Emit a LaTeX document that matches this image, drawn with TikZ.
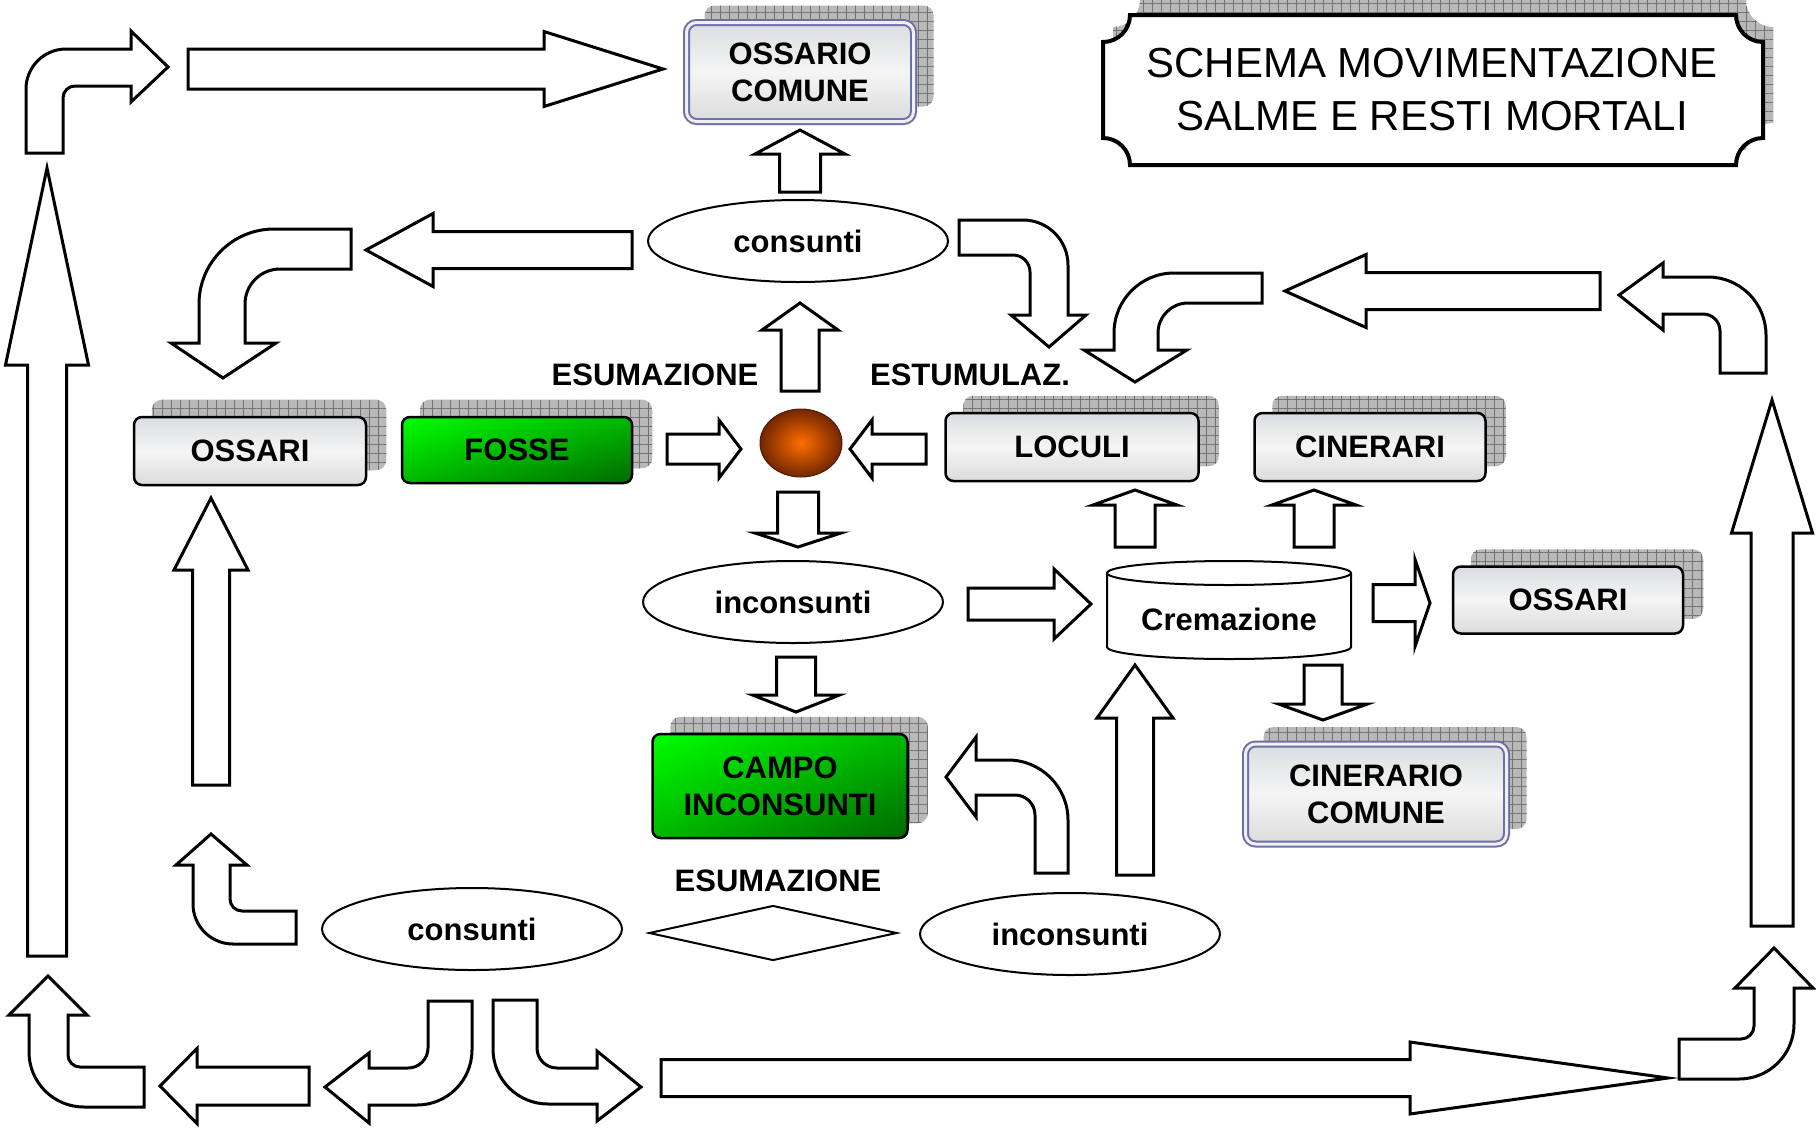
\documentclass[tikz,border=0pt]{standalone}
\usepackage{fontspec}
\setmainfont{Liberation Sans}
\newfontfamily\titlefont{Liberation Sans}
\usetikzlibrary{positioning, calc, shapes.geometric, shapes, shadings, patterns.meta, backgrounds}

\definecolor{frameblue}{RGB}{110,110,168}
\definecolor{ballcore}{RGB}{255,110,0}
\definecolor{ballrim}{RGB}{115,38,0}
\definecolor{limegreen}{RGB}{0,255,0}
\definecolor{deepgreen}{RGB}{0,105,0}
\definecolor{marble}{RGB}{218,221,225}

\tikzstyle{Fat} = [draw, fill=white, line width=3pt]
\tikzstyle{Box} = [draw, rounded corners=8pt, line width=2.5pt, inner sep=0pt, align=center]
\tikzstyle{Marble} = [top color=marble, bottom color=gray!28, middle color=white!92!gray]
\tikzstyle{Green} = [upper left=limegreen, upper right=green!72!black, lower left=green!72!black, lower right=deepgreen]
\tikzstyle{Frame} = [draw=frameblue, double=white!88!gray, double distance=3pt, line width=2pt,
        rounded corners=10pt, inner sep=0pt, align=center]
\tikzstyle{Oval} = [ellipse, draw, fill=white, line width=2pt, minimum width=300pt, minimum height=82pt, inner sep=0pt]
\tikzstyle{Ball} = [ellipse, draw=ballrim!70!black, line width=1pt, inner color=ballcore, outer color=ballrim,
        minimum width=82pt, minimum height=68pt]
\tikzstyle{Grid} = [fill=gray!55,
        postaction={pattern={Lines[distance=9pt, line width=0.8pt]}, pattern color=black!55},
        postaction={pattern={Lines[angle=90, distance=9pt, line width=0.8pt]}, pattern color=black!55}]

\newcommand{\FatArrow}[6]{\draw[Fat, shift={(#1)}, rotate=#2] (0,-#4) -- ({#3-#6},-#4) -- ({#3-#6},-#5)
        -- (#3,0) -- ({#3-#6},#5) -- ({#3-#6},#4) -- (0,#4) -- cycle;}

\begin{document}
\begin{tikzpicture}[x=1pt, y=-1pt, every node/.style={font=\fontsize{31}{37}\selectfont\bfseries}]
    \useasboundingbox (0,0) rectangle (1816,1128);

    \path[Grid, shift={(10,-15)}] (1103,42) arc[start angle=90, end angle=0, radius=27] -- (1736,15)
        arc[start angle=180, end angle=90, radius=27] -- (1763,138)
        arc[start angle=270, end angle=180, radius=27] -- (1130,165)
        arc[start angle=0, end angle=-90, radius=27] -- cycle;
    \draw[line width=4pt, fill=white] (1103,42) arc[start angle=90, end angle=0, radius=27] -- (1736,15)
        arc[start angle=180, end angle=90, radius=27] -- (1763,138)
        arc[start angle=270, end angle=180, radius=27] -- (1130,165)
        arc[start angle=0, end angle=-90, radius=27] -- cycle;
    \node (title) at (1432,90) [align=center, font=\titlefont\fontsize{42}{53}\selectfont]
        {SCHEMA MOVIMENTAZIONE\\SALME E RESTI MORTALI};

    \node (ocomune) at (800,72) [Marble, Frame, minimum width=227pt, minimum height=99pt] {OSSARIO\\COMUNE};
    \node (consTop) at (798,241) [Oval] {consunti};
    \node (esum) at (655,375) {ESUMAZIONE};
    \node (estum) at (970,375) {ESTUMULAZ.};
    \node (ball) at (801,443) [Ball] {};
    \node (ossariL) at (250,451) [Marble, Box, minimum width=232pt, minimum height=68pt] {OSSARI};
    \node (fosse) at (517,450) [Green, Box, minimum width=230pt, minimum height=66pt] {FOSSE};
    \node (loculi) at (1072,447) [Marble, Box, minimum width=253pt, minimum height=68pt] {LOCULI};
    \node (cinerari) at (1370,447) [Marble, Box, minimum width=231pt, minimum height=68pt] {CINERARI};
    \node (inconsMid) at (793,602) [Oval] {inconsunti};
    \draw[line width=2pt, fill=white] (1107,573) -- (1107,647)
        arc[start angle=180, end angle=0, x radius=122, y radius=12] -- (1351,573)
        arc[start angle=0, end angle=-180, x radius=122, y radius=12] -- cycle;
    \draw[line width=2pt] (1107,573) arc[start angle=180, end angle=0, x radius=122, y radius=12];
    \node (crem) at (1229,619) {Cremazione};
    \node (ossariR) at (1568,600) [Marble, Box, minimum width=230pt, minimum height=67pt] {OSSARI};
    \node (campo) at (780,786) [Green, Box, minimum width=255pt, minimum height=104pt] {CAMPO\\INCONSUNTI};
    \node (cincomune) at (1376,794) [Marble, Frame, minimum width=261pt, minimum height=100pt] {CINERARIO\\COMUNE};
    \node (esum2) at (778,881) {ESUMAZIONE};
    \node (rombo) at (773,933) [diamond, draw, line width=2pt, aspect=4.5, minimum width=248pt, minimum height=55pt, inner sep=0pt] {};
    \node (consBot) at (472,929) [Oval] {consunti};
    \node (inconsBot) at (1070,934) [Oval] {inconsunti};

    \begin{scope}[on background layer]
        \foreach \n in {ocomune, ossariL, fosse, loculi, cinerari, ossariR, campo, cincomune}
            \path[Grid, rounded corners=10pt] ([shift={(19,-16)}]\n.south west) rectangle ([shift={(19,-16)}]\n.north east);
    \end{scope}

    \FatArrow{188,69}{0}{475}{20}{37.5}{119}
    \FatArrow{47,956}{90}{788}{19.5}{41.5}{197}
    \FatArrow{632,250}{180}{266}{18.5}{36.5}{67}
    \FatArrow{800,192}{90}{62}{20.5}{45}{24}
    \FatArrow{800,391}{90}{88}{19}{38}{27}
    \FatArrow{667,449}{0}{74}{15}{29}{22}
    \FatArrow{926,449}{180}{76}{15}{29}{22}
    \FatArrow{798,492}{270}{55}{20.5}{43}{14}
    \FatArrow{796,657}{270}{55}{19.5}{43.5}{17}
    \FatArrow{968,604}{0}{123}{16}{35}{37}
    \FatArrow{1135,547}{90}{57}{20}{42}{15}
    \FatArrow{1314,547}{90}{57}{20}{42}{15}
    \FatArrow{1373,603}{0}{57}{18.5}{43.5}{15}
    \FatArrow{1323,665}{270}{55}{19}{44.5}{16}
    \FatArrow{1135,875}{90}{210}{18.5}{38}{53}
    \FatArrow{211,785}{90}{287}{18.5}{37}{72}
    \FatArrow{1772,926}{90}{526}{21}{40.5}{133}
    \FatArrow{1600,291}{180}{315}{18.5}{36.5}{81}
    \FatArrow{309,1086}{180}{149}{19}{37.5}{37}
    \FatArrow{661,1078}{0}{1007}{18.5}{36}{258}

    \draw[Fat] (26,153) -- (26,89) arc[start angle=180, end angle=270, radius=40] -- (131,49) -- (131,31)
        -- (168,67) -- (131,102) -- (131,86) -- (75,86) arc[start angle=270, end angle=180, radius=12] -- (63,153) -- cycle;
    \draw[Fat] (351,229) -- (274,229) arc[start angle=270, end angle=180, radius=75] -- (199,343) -- (171,343)
        -- (223,378) -- (276,343) -- (245,343) -- (245,304) arc[start angle=180, end angle=270, radius=35] -- (351,269) -- cycle;
    \draw[Fat] (959,220) -- (1023,220) arc[start angle=270, end angle=360, radius=45] -- (1068,315) -- (1086,315)
        -- (1049,347) -- (1011,315) -- (1030,315) -- (1030,272) arc[start angle=0, end angle=-90, radius=17] -- (959,255) -- cycle;
    \draw[Fat] (1262,273) -- (1174,273) arc[start angle=270, end angle=180, radius=60] -- (1114,350) -- (1084,350)
        -- (1135,382) -- (1187,350) -- (1158,350) -- (1158,333) arc[start angle=180, end angle=270, radius=30] -- (1262,303) -- cycle;
    \draw[Fat] (1766,373) -- (1766,335) arc[start angle=0, end angle=-90, radius=58] -- (1663,277) -- (1663,263)
        -- (1619,295) -- (1663,330) -- (1663,314) -- (1703,314) arc[start angle=270, end angle=360, radius=17] -- (1720,373) -- cycle;
    \draw[Fat] (1068,873) -- (1068,820) arc[start angle=0, end angle=-90, radius=60] -- (976,760) -- (976,737)
        -- (946,777) -- (976,817) -- (976,795) -- (1015,795) arc[start angle=270, end angle=360, radius=20] -- (1035,873) -- cycle;
    \draw[Fat] (296,944) -- (233,944) arc[start angle=90, end angle=180, radius=40] -- (193,865) -- (176,865)
        -- (211,834) -- (247,865) -- (230,865) -- (230,899) arc[start angle=180, end angle=90, radius=12] -- (296,911) -- cycle;
    \draw[Fat] (144,1107) -- (84,1107) arc[start angle=90, end angle=180, radius=55] -- (29,1015) -- (9,1015)
        -- (48,976) -- (87,1015) -- (68,1015) -- (68,1055) arc[start angle=180, end angle=90, radius=12] -- (144,1067) -- cycle;
    \draw[Fat] (428,1001) -- (472,1001) -- (472,1050) arc[start angle=0, end angle=90, radius=55] -- (369,1105) -- (369,1123)
        -- (325,1087) -- (369,1053) -- (369,1068) -- (408,1068) arc[start angle=90, end angle=0, radius=20] -- cycle;
    \draw[Fat] (537,1000) -- (493,1000) -- (493,1049) arc[start angle=180, end angle=90, radius=55] -- (597,1104) -- (597,1121)
        -- (641,1087) -- (597,1051) -- (597,1068) -- (557,1068) arc[start angle=90, end angle=180, radius=20] -- cycle;
    \draw[Fat] (1679,1079) -- (1739,1079) arc[start angle=90, end angle=0, radius=55] -- (1794,988) -- (1813,988)
        -- (1774,948) -- (1735,988) -- (1754,988) -- (1754,1026) arc[start angle=0, end angle=90, radius=13] -- (1679,1039) -- cycle;
\end{tikzpicture}
\end{document}
